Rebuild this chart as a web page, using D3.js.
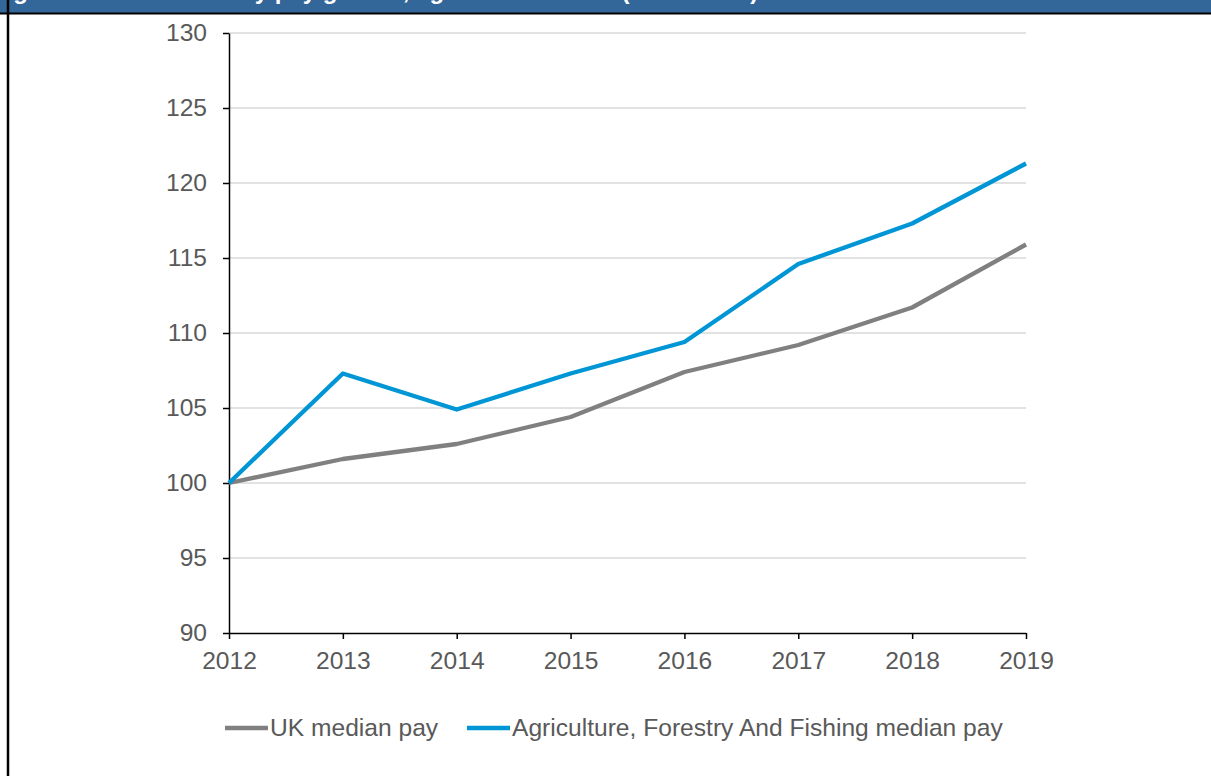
<!DOCTYPE html>
<html lang="en">
<head>
  <meta charset="UTF-8">
  <style>
    html, body { margin: 0; padding: 0; background: #fff; }
    svg { display: block; font-family: "Liberation Sans", Arial, sans-serif; }
  </style>
  <script src="https://d3js.org/d3.v7.min.js"></script>
</head>
<body>
  <svg id="chart" width="1211" height="776"></svg>
  <script>
    const years = [2012, 2013, 2014, 2015, 2016, 2017, 2018, 2019];
    const ukPay = [100, 101.6, 102.6, 104.4, 107.4, 109.2, 111.7, 115.9];
    const agriPay = [100, 107.3, 104.9, 107.3, 109.4, 114.6, 117.3, 121.3];
    const yTicks = [90, 95, 100, 105, 110, 115, 120, 125, 130];
    const seriesNames = ["UK median pay", "Agriculture, Forestry And Fishing median pay"];
    const seriesColors = ["#808080", "#0096d6"];

    const svg = d3.select("#chart");

    // header bar, the title is cut off at the top of the picture
    svg.append("rect").attr("x", 0).attr("y", 0).attr("width", 1211).attr("height", 13)
      .attr("fill", "#336699");
    svg.append("text").attr("x", -8).attr("y", -1)
      .attr("fill", "#fff").attr("font-size", 24).attr("font-weight", "bold")
      .text("Figure 6: Median weekly pay growth, agriculture vs UK (2012 = 100)");
    svg.append("line").attr("x1", 0).attr("x2", 1211).attr("y1", 13.5).attr("y2", 13.5)
      .attr("stroke", "#000").attr("stroke-width", 2);
    svg.append("line").attr("x1", 8).attr("x2", 8).attr("y1", 0).attr("y2", 776)
      .attr("stroke", "#000").attr("stroke-width", 2.5);

    const x = d3.scaleLinear().domain([2012, 2019]).range([229, 1026]);
    const y = d3.scaleLinear().domain([90, 130]).range([633, 33]);

    // gridlines
    svg.append("g").selectAll("line").data(yTicks.slice(1)).join("line")
      .attr("x1", 229).attr("x2", 1026)
      .attr("y1", d => y(d)).attr("y2", d => y(d))
      .attr("stroke", "#d9d9d9").attr("stroke-width", 1.5);

    const yAxis = svg.append("g").attr("transform", "translate(229,0)")
      .call(d3.axisLeft(y).tickValues(yTicks).tickSize(6).tickPadding(16).tickSizeOuter(0));
    const xAxis = svg.append("g").attr("transform", "translate(0,633)")
      .call(d3.axisBottom(x).tickValues(years).tickFormat(d3.format("d")).tickSize(6).tickPadding(13).tickSizeOuter(0));

    [yAxis, xAxis].forEach(a => {
      a.select(".domain").attr("stroke", "#000").attr("stroke-width", 1.5);
      a.selectAll(".tick line").attr("stroke", "#000").attr("stroke-width", 1.5);
      a.selectAll(".tick text").attr("fill", "#595959").attr("font-size", 24.6)
        .attr("font-family", "Liberation Sans, Arial, sans-serif");
    });

    const line = d3.line().x((d, i) => x(years[i])).y(d => y(d));
    [ukPay, agriPay].forEach((s, i) => {
      svg.append("path").datum(s).attr("d", line)
        .attr("fill", "none").attr("stroke", seriesColors[i]).attr("stroke-width", 4.3)
        .attr("stroke-linejoin", "round");
    });

    // legend
    const legendX = [225, 467];
    seriesNames.forEach((name, i) => {
      const g = svg.append("g").attr("transform", `translate(${legendX[i]},728)`);
      g.append("line").attr("x1", 0).attr("x2", 43).attr("y1", 0).attr("y2", 0)
        .attr("stroke", seriesColors[i]).attr("stroke-width", 4.3);
      g.append("text").attr("x", 45).attr("y", 8).attr("fill", "#595959")
        .attr("font-size", 24.6).text(name);
    });
  </script>
</body>
</html>
